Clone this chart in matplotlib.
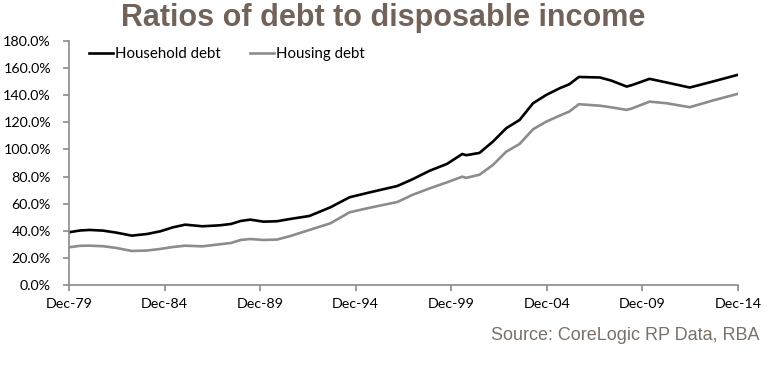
import matplotlib
matplotlib.use("Agg")
import matplotlib.pyplot as plt
from matplotlib.ticker import FuncFormatter

# fractional years (Dec-79 = 1979.92)
years = [1979.92, 1980.5, 1981.0, 1981.7, 1982.4, 1983.2, 1984.0, 1984.7, 1985.35,
         1986.0, 1986.9, 1987.8, 1988.4, 1988.9, 1989.4, 1990.1, 1990.8, 1991.5,
         1992.5, 1993.6, 1994.6, 1995.6, 1997.1, 1997.9, 1998.8, 1999.7, 2000.5,
         2000.7, 2001.4, 2002.1, 2002.8, 2003.5, 2004.2, 2004.9, 2005.6, 2006.1,
         2006.6, 2007.7, 2008.3, 2009.1, 2009.4, 2010.3, 2011.2, 2012.4, 2013.6,
         2014.9]
household = [38.9, 40.2, 40.6, 40.1, 38.6, 36.4, 37.6, 39.6, 42.5,
             44.5, 43.3, 44.0, 45.0, 47.2, 48.2, 46.7, 47.0, 48.7,
             50.9, 57.3, 64.7, 68.1, 73.0, 78.0, 84.3, 89.3, 96.6,
             95.7, 97.4, 105.7, 115.6, 121.7, 134.0, 140.2, 145.1, 148.0,
             153.4, 153.0, 150.7, 146.3, 147.5, 152.0, 149.3, 145.6, 150.0,
             154.9]
housing = [27.8, 28.9, 29.0, 28.6, 27.3, 25.1, 25.4, 26.6, 28.0,
           29.0, 28.5, 30.0, 31.0, 33.2, 33.9, 33.2, 33.5, 36.1,
           40.6, 45.5, 53.6, 56.8, 61.2, 66.5, 71.3, 75.7, 79.9,
           79.0, 81.3, 88.5, 98.3, 104.0, 114.8, 120.5, 124.9, 127.9,
           133.3, 132.2, 131.0, 129.1, 130.3, 135.2, 134.0, 131.1, 136.0,
           140.9]

tick_years = [1979.92, 1984.92, 1989.92, 1994.92, 1999.92, 2004.92, 2009.92, 2014.92]
tick_labels = ["Dec-79", "Dec-84", "Dec-89", "Dec-94", "Dec-99", "Dec-04", "Dec-09", "Dec-14"]

axis_grey = "#8a8a8a"
title_col = "#716359"

fig = plt.figure(figsize=(7.67, 3.75), dpi=100)
ax = fig.add_axes([0.09, 0.24, 0.872, 0.651])

ax.plot(years, household, color="black", lw=1.9, label="Household debt")
ax.plot(years, housing, color="#8c8c8c", lw=1.9, label="Housing debt")

ax.set_xlim(1979.92, 2014.92)
ax.set_ylim(0, 180)
ax.set_yticks(range(0, 181, 20))
ax.yaxis.set_major_formatter(FuncFormatter(lambda v, p: f"{v:.1f}%"))
ax.set_xticks(tick_years)
ax.set_xticklabels(tick_labels)

for s in ["top", "right"]:
    ax.spines[s].set_visible(False)
for s in ["left", "bottom"]:
    ax.spines[s].set_color(axis_grey)
    ax.spines[s].set_linewidth(1.2)
ax.tick_params(axis="both", colors=axis_grey, length=4, width=1.2, labelcolor="black",
               labelsize=10.3)
ax.tick_params(axis="y", pad=9)
ax.tick_params(axis="x", pad=5)
for lab in ax.get_xticklabels() + ax.get_yticklabels():
    lab.set_family("Lato")

leg = ax.legend(loc="upper left", ncol=2, frameon=False, bbox_to_anchor=(0.01, 1.03),
                handlelength=1.6, handletextpad=0.1, columnspacing=2.0,
                prop={"family": "Lato", "size": 10.8})

fig.text(0.5, 0.952, "Ratios of debt to disposable income", ha="center", va="center",
         fontsize=22, fontweight="bold", color=title_col, family="Liberation Sans")
fig.text(0.99, 0.105, "Source: CoreLogic RP Data, RBA", ha="right", va="center",
         fontsize=13, color="#7a7068", family="Liberation Sans")

fig.savefig("out.png", dpi=100)
